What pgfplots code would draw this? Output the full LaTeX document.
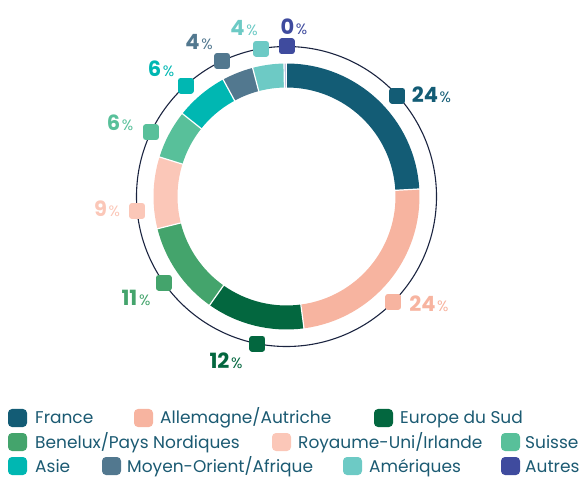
\documentclass[border=0pt]{standalone}
\usepackage{pgfplots}
\pgfplotsset{compat=1.18}
\usepackage{pgfplotstable}
\usepackage{fontspec}
\setmainfont{Poppins}

\definecolor{cFR}{HTML}{135C75}
\definecolor{cAL}{HTML}{F7B4A0}
\definecolor{cES}{HTML}{03673F}
\definecolor{cBE}{HTML}{44A46C}
\definecolor{cRU}{HTML}{FBC7B8}
\definecolor{cSU}{HTML}{58C09A}
\definecolor{cAS}{HTML}{00B7B2}
\definecolor{cMO}{HTML}{52788F}
\definecolor{cAM}{HTML}{6DCAC5}
\definecolor{cAU}{HTML}{3F4B9E}
\definecolor{txt}{HTML}{1B5A72}
\definecolor{ring}{HTML}{1B2440}

% marker angle: clockwise from the top, in degrees
\pgfplotstableread{
cat pos
FR 47.7
AL 134.5
ES 191.2
BE 235
RU 264.5
SU 295.3
AS 317.7
MO 334.7
AM 350.3
AU 0
}\markers

% ring segment: #1 start %, #2 end %, #3 colour
\newcommand\seg[3]{%
  \draw[#3, line width=24pt] (axis cs:0,0) ++({90-3.6*#1}:121pt)
    arc[start angle={90-3.6*#1}, end angle={90-3.6*#2}, radius=121pt];}
\newcommand\gap[1]{%
  \draw[white, line width=1.2pt] (axis cs:0,0) ++({90-3.6*#1}:108pt) -- ++({90-3.6*#1}:26pt);}
\newcommand\lbl[1]{{\fontsize{21}{21}\selectfont\bfseries #1}\,{\fontsize{15}{15}\selectfont\%}}
% legend entry: colour, square x, text x, row y (picture px), text
\newcommand\leg[5]{%
  \fill[#1, rounded corners=4pt] (axis cs:{#2-286.5},{196.5-#4-9}) rectangle (axis cs:{#2+19-286.5},{196.5-#4+9});
  \node[anchor=base west, inner sep=0, text=txt, font=\fontsize{17}{20}\selectfont] at (axis cs:{#3-286.5},{196.5-#4-6}) {#5};}

\begin{document}
\begin{tikzpicture}
\begin{axis}[x=1pt, y=1pt, xmin=-286.5, xmax=297.5, ymin=-280.5, ymax=196.5,
  hide axis, clip=false]
\path (axis cs:-286.5,-280.5) rectangle (axis cs:297.5,196.5);

\draw[ring, line width=1.1pt] (axis cs:0,0) circle[radius=150pt];

\seg{0}{24.1}{cFR}
\seg{24.1}{47.9}{cAL}
\seg{47.9}{59.8}{cES}
\seg{59.8}{71.1}{cBE}
\seg{71.1}{79.8}{cRU}
\seg{79.8}{85.7}{cSU}
\seg{85.7}{92.1}{cAS}
\seg{92.1}{95.9}{cMO}
\seg{95.9}{99.7}{cAM}
\seg{99.7}{100}{cAU!35}
\gap{0}\gap{24.1}\gap{47.9}\gap{59.8}\gap{71.1}\gap{79.8}\gap{85.7}\gap{92.1}\gap{95.9}\gap{99.7}

\addplot[scatter, only marks, scatter src=explicit symbolic,
  mark=square*, mark size=5pt, mark options={line width=6pt, line join=round},
  scatter/classes={FR={cFR}, AL={cAL}, ES={cES}, BE={cBE}, RU={cRU},
    SU={cSU}, AS={cAS}, MO={cMO}, AM={cAM}, AU={cAU}}]
  table[x expr={150*sin(\thisrow{pos})}, y expr={150*cos(\thisrow{pos})}, meta=cat] {\markers};

\node[text=cFR] at (axis cs:145,101.5) {\lbl{24}};
\node[text=cAL] at (axis cs:142.5,-107.5) {\lbl{24}};
\node[text=cES] at (axis cs:-60.5,-164.5) {\lbl{12}};
\node[text=cBE] at (axis cs:-150.5,-101.5) {\lbl{11}};
\node[text=cRU] at (axis cs:-179.5,-12.5) {\lbl{9}};
\node[text=cSU] at (axis cs:-166.5,73.5) {\lbl{6}};
\node[text=cAS] at (axis cs:-125.5,127.5) {\lbl{6}};
\node[text=cMO] at (axis cs:-87.5,154.5) {\lbl{4}};
\node[text=cAM] at (axis cs:-42.5,168.5) {\lbl{4}};
\node[text=cAU] at (axis cs:7.5,169.5) {\lbl{0}};

\leg{cFR}{8}{35}{418}{France}
\leg{cAL}{134}{160}{418}{Allemagne/Autriche}
\leg{cES}{374}{400}{418}{Europe du Sud}
\leg{cBE}{8}{35}{442}{Benelux/Pays Nordiques}
\leg{cRU}{272}{298}{442}{Royaume-Uni/Irlande}
\leg{cSU}{501}{525}{442}{Suisse}
\leg{cAS}{8}{35}{466}{Asie}
\leg{cMO}{102}{127}{466}{Moyen-Orient/Afrique}
\leg{cAM}{343}{369}{466}{Amériques}
\leg{cAU}{501}{525}{466}{Autres}
\end{axis}
\end{tikzpicture}
\end{document}
